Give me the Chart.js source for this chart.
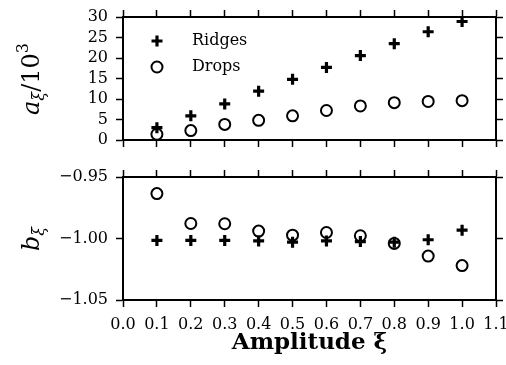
<!DOCTYPE html>
<html><head><meta charset="utf-8">
<script src="https://cdn.jsdelivr.net/npm/chart.js@4/dist/chart.umd.min.js"></script>
<style>
html,body{margin:0;padding:0;background:#fff;}
#wrap{position:relative;width:506px;height:365px;overflow:hidden;}
#c1{position:absolute;left:0;top:0;}
#c2{position:absolute;left:0;top:160px;}
</style></head><body>
<div id="wrap">
<canvas id="c1" width="506" height="160"></canvas>
<canvas id="c2" width="506" height="205"></canvas>
</div>
<script>
// ---- data ----
const amplitudes = [0.1,0.2,0.3,0.4,0.5,0.6,0.7,0.8,0.9,1.0];
const ridgesA = [3.0,5.9,8.8,11.9,14.8,17.7,20.6,23.5,26.4,28.9];
const dropsA  = [1.4,2.3,3.8,4.8,5.9,7.2,8.3,9.1,9.4,9.6];
const ridgesB = [-1.0016,-1.0016,-1.0016,-1.002,-1.003,-1.002,-1.0025,-1.003,-1.001,-0.9932];
const dropsB  = [-0.9635,-0.9878,-0.988,-0.994,-0.9973,-0.9951,-0.9978,-1.004,-1.0143,-1.022];
const xTicks = [0.0,0.1,0.2,0.3,0.4,0.5,0.6,0.7,0.8,0.9,1.0,1.1];
const yTicksA = [0,5,10,15,20,25,30];
const yTicksB = [-1.05,-1.00,-0.95];
const seriesNames = ['Ridges','Drops'];
const xTitle = 'Amplitude ξ';

const FONT = 'DejaVu Serif';
const tickFont = {family: FONT, size: 16};

function pts(ys){ return amplitudes.map((x,i)=>({x:x, y:ys[i]})); }

function axis(pos, min, max, ticks, size, opts){
  const horiz = (pos==='top'||pos==='bottom');
  const o = Object.assign({
    type:'linear', position:pos, min:min, max:max,
    afterBuildTicks: s => { s.ticks = ticks.map(v=>({value:v})); },
    afterFit: s => {
      if (horiz) s.height = size; else s.width = size;
      s.paddingLeft = 0; s.paddingRight = 0; s.paddingTop = 0; s.paddingBottom = 0;
    },
    grid:{drawOnChartArea:false, drawTicks:true, tickLength:7, tickWidth:1.5, tickColor:'#000'},
    border:{display:true, color:'#000', width:2},
    ticks:{display:false, autoSkip:false}
  }, opts||{});
  return o;
}

function ridgeDS(data){
  return {label:seriesNames[0], data:data, pointStyle:'cross', pointRadius:5.5, pointHoverRadius:5.5,
          borderWidth:3.2, borderColor:'#000', backgroundColor:'#000', showLine:false, clip:false};
}
function dropDS(data){
  return {label:seriesNames[1], data:data, pointStyle:'circle', pointRadius:5.5, pointHoverRadius:5.5,
          borderWidth:2, borderColor:'#000', backgroundColor:'rgba(0,0,0,0)', showLine:false, clip:false};
}

function mathLabel(cx, cy, parts){
  return {
    id:'mathLabel',
    afterDraw(chart){
      const ctx = chart.ctx;
      ctx.save();
      ctx.fillStyle = '#000';
      ctx.textBaseline = 'alphabetic';
      let total = 0;
      parts.forEach(p=>{ ctx.font = p.font; p.w = ctx.measureText(p.t).width; total += p.w; });
      ctx.translate(cx, cy);
      ctx.rotate(-Math.PI/2);
      let x = -total/2;
      parts.forEach(p=>{ ctx.font = p.font; ctx.fillText(p.t, x, 7 + p.dy); x += p.w; });
      ctx.restore();
    }
  };
}

const legendPlugin = {
  id:'customLegend',
  afterDraw(chart){
    const ctx = chart.ctx;
    ctx.save();
    ctx.strokeStyle = '#000';
    const px = 157, py1 = 41, py2 = 67;
    ctx.lineWidth = 3.2;
    ctx.beginPath();
    ctx.moveTo(px-5.5, py1); ctx.lineTo(px+5.5, py1);
    ctx.moveTo(px, py1-5.5); ctx.lineTo(px, py1+5.5);
    ctx.stroke();
    ctx.lineWidth = 2;
    ctx.beginPath();
    ctx.arc(px, py2, 5.5, 0, Math.PI*2);
    ctx.stroke();
    ctx.fillStyle = '#000';
    ctx.font = '16px "' + FONT + '"';
    ctx.textBaseline = 'middle';
    ctx.fillText(seriesNames[0], 192, py1);
    ctx.fillText(seriesNames[1], 192, py2);
    ctx.restore();
  }
};

const common = {
  responsive:false, animation:false, events:[],
  layout:{padding:0},
  plugins:{legend:{display:false}, tooltip:{enabled:false}, title:{display:false}}
};

// ---- top chart ----
new Chart(document.getElementById('c1'), {
  type:'scatter',
  data:{datasets:[ridgeDS(pts(ridgesA)), dropDS(pts(dropsA))]},
  options:Object.assign({}, common, {
    scales:{
      x: axis('bottom',0,1.1,xTicks,20),
      x2: axis('top',0,1.1,xTicks,17),
      y: axis('left',0,30,yTicksA,123,{
        ticks:{display:true, autoSkip:false, color:'#000', font:tickFont, padding:8, callback:v=>String(v)}}),
      y2: axis('right',0,30,yTicksA,10)
    }
  }),
  plugins:[legendPlugin, mathLabel(32, 79, [
    {t:'a', font:'italic 24px "'+FONT+'"', dy:0},
    {t:'ξ', font:'italic 16px "'+FONT+'"', dy:5},
    {t:'/10', font:'24px "'+FONT+'"', dy:0},
    {t:'3', font:'16px "'+FONT+'"', dy:-11}
  ])]
});

// ---- bottom chart ----
new Chart(document.getElementById('c2'), {
  type:'scatter',
  data:{datasets:[ridgeDS(pts(ridgesB)), dropDS(pts(dropsB))]},
  options:Object.assign({}, common, {
    scales:{
      x: axis('bottom',0,1.1,xTicks,65,{
        ticks:{display:true, color:'#000', font:tickFont, padding:8, maxRotation:0, autoSkip:false,
               callback:v=>Number(v).toFixed(1)},
        title:{display:true, text:xTitle, color:'#000', font:{family:FONT, size:23, weight:'bold'}, padding:{top:0,bottom:8}}}),
      x2: axis('top',0,1.1,xTicks,17),
      y: axis('left',-1.05,-0.95,yTicksB,123,{
        ticks:{display:true, autoSkip:false, color:'#000', font:tickFont, padding:8,
               callback:v=>Number(v).toFixed(2).replace('-','\u2212')}}),
      y2: axis('right',-1.05,-0.95,yTicksB,10)
    }
  }),
  plugins:[mathLabel(32, 79, [
    {t:'b', font:'italic 24px "'+FONT+'"', dy:0},
    {t:'ξ', font:'italic 16px "'+FONT+'"', dy:5}
  ])]
});
</script>
</body></html>
